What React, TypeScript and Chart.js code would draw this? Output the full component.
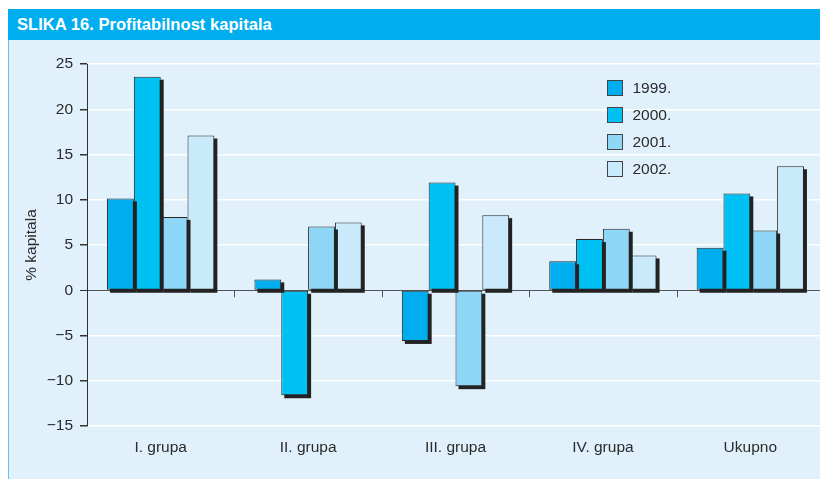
import React, { useEffect, useRef } from "react";
import { Chart, registerables } from "chart.js";

Chart.register(...registerables);

const categories = ["I. grupa", "II. grupa", "III. grupa", "IV. grupa", "Ukupno"];
const seriesNames = ["1999.", "2000.", "2001.", "2002."];
const values1999 = [10.15, 1.2, -5.6, 3.2, 4.7];
const values2000 = [23.6, -11.6, 11.9, 5.65, 10.7];
const values2001 = [8.1, 7.05, -10.6, 6.8, 6.6];
const values2002 = [17.1, 7.5, 8.3, 3.85, 13.7];
const seriesColors = ["#00aeef", "#00c1f3", "#8fd7f7", "#c9eafa"];
const yMin = -15;
const yMax = 25;
const yStep = 5;

const FONT = "'Liberation Sans', Arial, Helvetica, sans-serif";
const FS = 15.5;

const shadowPlugin = {
  id: "barShadow",
  beforeDatasetDraw(chart: any, args: any) {
    const meta = chart.getDatasetMeta(args.index);
    const ctx = chart.ctx;
    ctx.save();
    ctx.fillStyle = "#222222";
    meta.data.forEach((bar: any) => {
      const { x, y, base, width } = bar.getProps(["x", "y", "base", "width"], true);
      const top = Math.min(y, base);
      const h = Math.abs(base - y);
      ctx.fillRect(x - width / 2 + 3, top + 3, width, h);
    });
    ctx.restore();
  },
};

const axisDecorPlugin = {
  id: "axisDecor",
  afterDatasetsDraw(chart: any) {
    const ctx = chart.ctx;
    const xs = chart.scales.x;
    const ys = chart.scales.y;
    const y0 = ys.getPixelForValue(0);
    const n = categories.length;
    const step = (xs.right - xs.left) / n;
    ctx.save();
    ctx.strokeStyle = "#555555";
    ctx.lineWidth = 1;
    for (let i = 1; i <= n; i++) {
      const x = Math.round(xs.left + i * step) + 0.5;
      ctx.beginPath();
      ctx.moveTo(x, y0);
      ctx.lineTo(x, y0 + 7);
      ctx.stroke();
    }
    ctx.restore();
  },
};

const legendPlugin = {
  id: "insideLegend",
  afterDraw(chart: any) {
    const ctx = chart.ctx;
    const area = chart.chartArea;
    const left = area.left + 520.5;
    const top = area.top + 16.5;
    ctx.save();
    ctx.font = `${FS}px ${FONT}`;
    ctx.textBaseline = "middle";
    seriesNames.forEach((name, i) => {
      const y = top + i * 27;
      ctx.fillStyle = seriesColors[i];
      ctx.fillRect(left, y, 15, 15);
      ctx.strokeStyle = "#444444";
      ctx.lineWidth = 1;
      ctx.strokeRect(left, y, 15, 15);
      ctx.fillStyle = "#2b2b2b";
      ctx.fillText(name, left + 25, y + 8);
    });
    ctx.restore();
  },
};

function BarChart() {
  const ref = useRef<HTMLCanvasElement | null>(null);
  useEffect(() => {
    if (!ref.current) return;
    const all = [values1999, values2000, values2001, values2002];
    const chart = new Chart(ref.current, {
      type: "bar",
      data: {
        labels: categories,
        datasets: all.map((vals, i) => ({
          label: seriesNames[i],
          data: vals,
          backgroundColor: seriesColors[i],
          borderColor: "#262626",
          borderWidth: 1,
          borderSkipped: false,
          categoryPercentage: 0.728,
          barPercentage: 1,
        })),
      },
      options: {
        animation: false,
        responsive: false,
        maintainAspectRatio: false,
        layout: { padding: { top: 24, right: 2, left: 0, bottom: 0 } },
        plugins: {
          legend: { display: false },
          tooltip: { enabled: false },
          title: { display: false },
        },
        scales: {
          x: {
            position: "bottom",
            grid: { display: false, drawTicks: false },
            border: { display: false },
            ticks: {
              color: "#2b2b2b",
              font: { family: FONT, size: FS },
              padding: 12,
              maxRotation: 0,
            },
            afterFit(scale: any) {
              scale.height = 54;
            },
          },
          y: {
            min: yMin,
            max: yMax,
            grid: {
              color: (c: any) => (c.tick && c.tick.value === 0 ? "#555555" : "#ffffff"),
              lineWidth: (c: any) => (c.tick && c.tick.value === 0 ? 1 : 1.5),
              tickColor: "#333333",
              tickLength: 7,
              drawTicks: true,
            },
            border: { display: true, color: "#333333", width: 1 },
            ticks: {
              stepSize: yStep,
              color: "#2b2b2b",
              font: { family: FONT, size: FS },
              padding: 7,
              callback: (v: any) => (Number(v) < 0 ? "\u2212" + Math.abs(Number(v)) : String(v)),
            },
            title: {
              display: true,
              text: "% kapitala",
              color: "#2b2b2b",
              font: { family: FONT, size: FS },
              padding: { top: 13, bottom: 0 },
            },
            afterFit(scale: any) {
              scale.width = 78;
            },
          },
        },
      },
      plugins: [shadowPlugin, axisDecorPlugin, legendPlugin],
    } as any);
    return () => chart.destroy();
  }, []);
  return <canvas ref={ref} width={817} height={440} style={{ display: "block" }} />;
}

export default function App() {
  return (
    <div style={{ width: 819, marginTop: 1, fontFamily: FONT }}>
      <div
        style={{
          background: "#00aeef",
          height: 31,
          color: "#ffffff",
          fontWeight: "bold",
          fontSize: 16.6,
          lineHeight: "32px",
          paddingLeft: 9,
          boxSizing: "border-box",
        }}
      >
        SLIKA 16. Profitabilnost kapitala
      </div>
      <div
        style={{
          background: "#e0f1fb",
          borderLeft: "1px solid #5cc6ef",
          borderRight: "1px solid #5cc6ef",
          height: 440,
        }}
      >
        <BarChart />
      </div>
    </div>
  );
}
